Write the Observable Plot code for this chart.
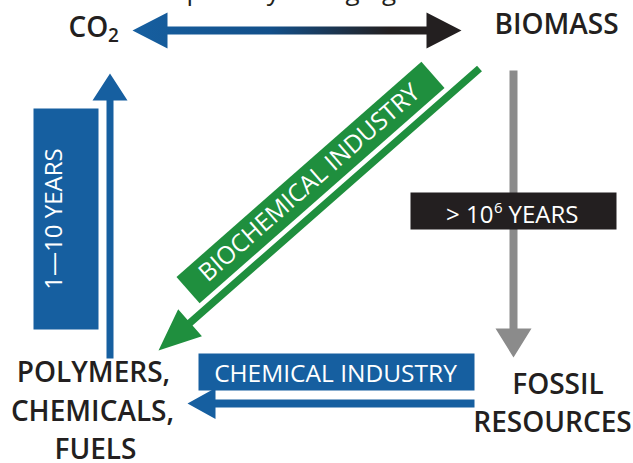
<!DOCTYPE html>
<html>
<head>
<meta charset="utf-8">
<script src="https://cdn.jsdelivr.net/npm/d3@7"></script>
<script src="https://cdn.jsdelivr.net/npm/@observablehq/plot@0.6"></script>
<style>
  html, body { margin: 0; padding: 0; background: #fff; }
  #chart svg { display: block; }
</style>
</head>
<body>
<div id="chart"></div>
<script>
// ---------- content ----------
const topNote = ["temporarily changing"];
const nodeText = ["CO", "BIOMASS", "POLYMERS,", "CHEMICALS,", "FUELS", "FOSSIL", "RESOURCES"];
const nodeX = [68, 556, 93, 92, 95, 557.5, 552];
const nodeY = [28, 25, 373, 412, 450, 384.5, 422.5];
const nodeAnchor = ["start", "middle", "middle", "middle", "middle", "middle", "middle"];
const subscriptText = ["2"];

const flowNames = ["cycle", "short", "biochemical", "fossilization", "chemical"];
const flowFrom = [[132, 30], [109.5, 358], [479, 68], [513, 70], [474, 403]];
const flowTo = [[461, 30], [109.5, 73], [158, 350], [513, 357], [187, 403]];
const flowDouble = [true, false, false, false, false];

const boxText = ["1—10 YEARS", "BIOCHEMICAL INDUSTRY", "> 10", "6", "YEARS", "CHEMICAL INDUSTRY"];

// ---------- layout / style ----------
const BLUE = "#165fa0", GREEN = "#1f8f3e", DARK = "#231f20", GRAY = "#8b8b8b", INK = "#231f20";
const arrowStyle = [
  {shaft: 8, head: 35, half: 18, fill: "url(#co2grad)"},
  {shaft: 7, head: 27, half: 17.5, fill: BLUE},
  {shaft: 7.5, head: 42, half: 18, fill: GREEN},
  {shaft: 8, head: 29, half: 18, fill: GRAY},
  {shaft: 8, head: 28, half: 15.5, fill: BLUE}
];
const boxes = [
  {cx: 65.5, cy: 218.5, w: 65, h: 221, angle: 0, fill: BLUE},
  {cx: 310, cy: 182, w: 326, h: 35, angle: -41.3, fill: GREEN},
  {cx: 513, cy: 210.5, w: 206, h: 37, angle: 0, fill: DARK},
  {cx: 336, cy: 371.5, w: 276, h: 37, angle: 0, fill: BLUE}
];

function arrowPolygon(S, T, st, dbl) {
  const dx = T[0] - S[0], dy = T[1] - S[1], len = Math.hypot(dx, dy);
  const u = [dx / len, dy / len], n = [-u[1], u[0]];
  const P = (p, a, b) => ({x: p[0] + u[0] * a + n[0] * b, y: p[1] + u[1] * a + n[1] * b});
  const t = st.shaft / 2;
  const pts = [];
  if (dbl) {
    pts.push(P(S, 0, 0), P(S, st.head, st.half), P(S, st.head, t));
  } else {
    pts.push(P(S, 0, t));
  }
  pts.push(P(T, -st.head, t), P(T, -st.head, st.half), P(T, 0, 0), P(T, -st.head, -st.half), P(T, -st.head, -t));
  if (dbl) {
    pts.push(P(S, st.head, -t), P(S, st.head, -st.half));
  } else {
    pts.push(P(S, 0, -t));
  }
  return pts;
}
function boxPolygon(b) {
  const a = b.angle * Math.PI / 180, c = Math.cos(a), s = Math.sin(a);
  return [[-1, -1], [1, -1], [1, 1], [-1, 1]].map(([i, j]) => {
    const lx = i * b.w / 2, ly = j * b.h / 2;
    return {x: b.cx + lx * c - ly * s, y: b.cy + lx * s + ly * c};
  });
}

const arrowMarks = flowNames.map((name, i) =>
  Plot.line(arrowPolygon(flowFrom[i], flowTo[i], arrowStyle[i], flowDouble[i]),
    {x: "x", y: "y", fill: arrowStyle[i].fill, stroke: "none", curve: "linear-closed"}));
const boxMarks = boxes.map(b =>
  Plot.line(boxPolygon(b), {x: "x", y: "y", fill: b.fill, stroke: "none", curve: "linear-closed"}));

const nodes = nodeText.map((t, i) => ({t, x: nodeX[i], y: nodeY[i], a: nodeAnchor[i]}));
const boxLabelPos = [
  {x: 54, y: 218.5, rotate: -90, size: 24, anchor: "middle"},
  {x: 309, y: 182.5, rotate: -41.3, size: 24.5, anchor: "middle"},
  {x: 493, y: 215, rotate: 0, size: 24, anchor: "end"},
  {x: 493.5, y: 207.5, rotate: 0, size: 15, anchor: "start"},
  {x: 508, y: 215, rotate: 0, size: 24, anchor: "start"},
  {x: 335, y: 374, rotate: 0, size: 24.5, anchor: "middle"}
];

const marks = [
  ...arrowMarks,
  ...boxMarks,
  Plot.text(topNote, {x: () => 138, y: () => -9, text: d => d, textAnchor: "start", lineAnchor: "middle", fontSize: 26, fill: INK}),
  ...nodes.map(d => Plot.text([d], {x: "x", y: "y", text: "t", textAnchor: d.a, lineAnchor: "middle", fontSize: 28, fontWeight: 600, fill: INK})),
  Plot.text(subscriptText, {x: () => 107.5, y: () => 35, text: d => d, textAnchor: "start", lineAnchor: "middle", fontSize: 19, fontWeight: 600, fill: INK}),
  ...boxText.map((t, i) => Plot.text([t], {x: () => boxLabelPos[i].x, y: () => boxLabelPos[i].y, text: d => d,
    rotate: boxLabelPos[i].rotate, textAnchor: boxLabelPos[i].anchor, lineAnchor: "middle",
    fontSize: boxLabelPos[i].size, fill: "white"}))
];

const svg = Plot.plot({
  width: 633,
  height: 463,
  margin: 0,
  x: {domain: [0, 633], range: [0, 633], axis: null},
  y: {domain: [0, 463], range: [0, 463], axis: null},
  style: {background: "white", fontFamily: "'Open Sans', 'Noto Sans', sans-serif", overflow: "hidden"},
  marks
});

const defs = d3.select(svg).insert("defs", ":first-child");
const grad = defs.append("linearGradient").attr("id", "co2grad")
  .attr("gradientUnits", "userSpaceOnUse")
  .attr("x1", flowFrom[0][0]).attr("y1", 0).attr("x2", flowTo[0][0]).attr("y2", 0);
grad.append("stop").attr("offset", 0).attr("stop-color", BLUE);
grad.append("stop").attr("offset", 0.42).attr("stop-color", "#13508a");
grad.append("stop").attr("offset", 0.78).attr("stop-color", DARK);
grad.append("stop").attr("offset", 1).attr("stop-color", DARK);

document.getElementById("chart").appendChild(svg);
</script>
</body>
</html>
